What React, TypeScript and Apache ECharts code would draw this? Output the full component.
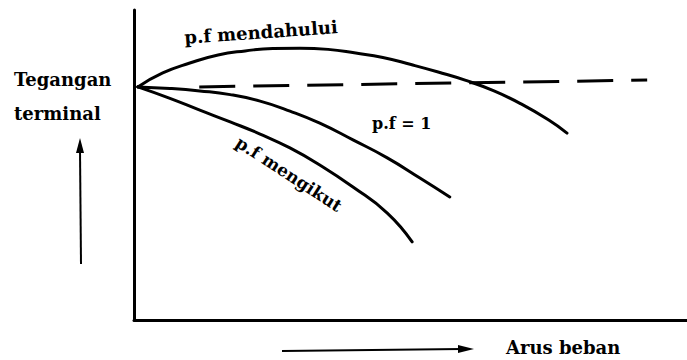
import React, { useEffect, useRef } from "react";
import * as echarts from "echarts";

// Load current (x, 0..100) and terminal voltage (y, 0..100)
const leadingCurrent = [0.7, 5.2, 10.1, 15.2, 20.1, 25.1, 30.0, 35.1, 40.1, 45.0, 50.1, 55.0, 60.0, 65.1, 70.0, 75.0, 78.3];
const leadingVoltage = [75.2, 79.7, 82.9, 85.5, 86.8, 87.6, 87.7, 87.3, 86.1, 84.7, 82.4, 80.0, 77.3, 73.9, 69.7, 64.5, 60.3];

const unityCurrent = [0.7, 6.5, 11.9, 17.4, 22.8, 28.2, 33.6, 39.6, 45.8, 51.7, 57.1];
const unityVoltage = [75.2, 74.7, 73.9, 72.7, 70.6, 67.4, 63.5, 58.1, 52.3, 45.8, 39.7];

const laggingCurrent = [0.7, 6.5, 11.9, 17.4, 22.8, 28.2, 33.6, 39.6, 45.8, 50.3];
const laggingVoltage = [75.2, 71.5, 67.7, 63.9, 60.0, 55.5, 50.0, 42.9, 34.5, 25.2];

const noLoadCurrent = [11.8, 92.8];
const noLoadVoltage = [75.2, 77.4];

const labels = {
  yTitle1: "Tegangan",
  yTitle2: "terminal",
  xTitle: "Arus beban",
  leading: "p.f mendahului",
  unity: "p.f = 1",
  lagging: "p.f mengikut",
};

const zip = (xs: number[], ys: number[]) => xs.map((x, i) => [x, ys[i]]);

const FONT = "DejaVu Serif";

export default function App() {
  const ref = useRef<HTMLDivElement>(null);
  useEffect(() => {
    if (!ref.current) return;
    const chart = echarts.init(ref.current, null, { renderer: "svg" });
    const curve = (data: number[][]) => ({
      type: "line",
      data,
      smooth: 0.5,
      showSymbol: false,
      symbol: "none",
      lineStyle: { color: "#000", width: 3, cap: "round", join: "round" },
      silent: true,
    });
    const txt = (text: string, x: number, y: number, extra: any = {}) => ({
      type: "text",
      x,
      y,
      rotation: extra.rotation || 0,
      style: {
        text,
        fill: "#000",
        font: `${extra.weight || "bold"} ${extra.size || 17}px "${FONT}"`,
        align: extra.align || "left",
        verticalAlign: "middle",
      },
    });
    chart.setOption({
      animation: false,
      backgroundColor: "#fff",
      grid: { left: 134, right: 0, top: 10, bottom: 40 },
      xAxis: {
        type: "value",
        min: 0,
        max: 100,
        axisLine: { show: true, lineStyle: { color: "#000", width: 3 } },
        axisTick: { show: false },
        axisLabel: { show: false },
        splitLine: { show: false },
      },
      yAxis: {
        type: "value",
        min: 0,
        max: 100,
        axisLine: { show: true, lineStyle: { color: "#000", width: 3 } },
        axisTick: { show: false },
        axisLabel: { show: false },
        splitLine: { show: false },
      },
      series: [
        curve(zip(leadingCurrent, leadingVoltage)),
        curve(zip(unityCurrent, unityVoltage)),
        curve(zip(laggingCurrent, laggingVoltage)),
        {
          type: "line",
          data: zip(noLoadCurrent, noLoadVoltage),
          showSymbol: false,
          symbol: "none",
          lineStyle: { color: "#000", width: 3, type: [36, 18] },
          silent: true,
        },
      ],
      graphic: [
        txt(labels.yTitle1, 14, 79, { size: 18 }),
        txt(labels.yTitle2, 14, 113, { size: 18 }),
        txt(labels.xTitle, 506, 347, { size: 18 }),
        txt(labels.leading, 261, 32, { size: 18, align: "center", rotation: (4 * Math.PI) / 180 }),
        txt(labels.unity, 372, 123, { size: 16 }),
        txt(labels.lagging, 289, 174, { size: 17, align: "center", rotation: (-33 * Math.PI) / 180 }),
        // up arrow
        { type: "line", shape: { x1: 81, y1: 264, x2: 80, y2: 150 }, style: { stroke: "#000", lineWidth: 2 } },
        { type: "polygon", shape: { points: [[80, 138], [76, 153], [84, 153]] }, style: { fill: "#000" } },
        // right arrow
        { type: "line", shape: { x1: 282, y1: 351, x2: 462, y2: 349 }, style: { stroke: "#000", lineWidth: 2 } },
        { type: "polygon", shape: { points: [[474, 349], [458, 345], [458, 353]] }, style: { fill: "#000" } },
      ],
    });
    return () => chart.dispose();
  }, []);
  return <div ref={ref} style={{ position: "absolute", left: 0, top: 0, width: 687, height: 360 }} />;
}
